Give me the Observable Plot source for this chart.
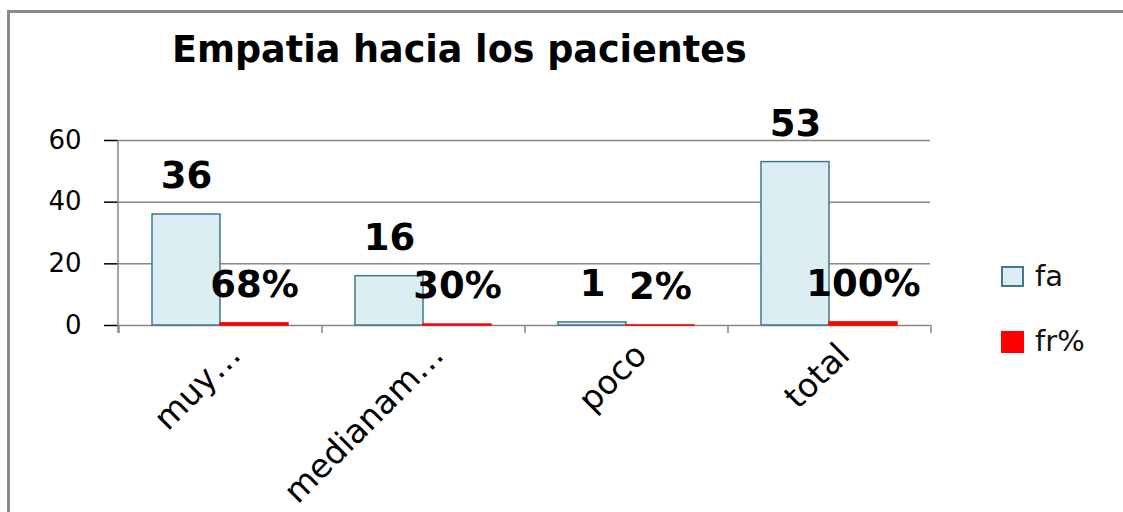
<!DOCTYPE html>
<html>
<head>
<meta charset="utf-8">
<script src="https://cdn.jsdelivr.net/npm/d3@7"></script>
<script src="https://cdn.jsdelivr.net/npm/@observablehq/plot@0.6"></script>
<style>
  html, body { margin: 0; padding: 0; background: #fff; width: 1123px; height: 512px; overflow: hidden; }
  #frame { position: absolute; left: 7px; top: 10px; width: 1150px; height: 560px; border: 3px solid #8a8a8a; box-sizing: border-box; }
  #chart { position: absolute; left: 0; top: 0; }
  #title { position: absolute; left: 172px; top: 32px; font: bold 36.5px "DejaVu Sans"; line-height: 36px; white-space: nowrap; color: #000; }
  #legend { position: absolute; left: 1001px; top: 258px; font: 29px "DejaVu Sans"; color: #111; }
  .item { position: absolute; left: 0; white-space: nowrap; height: 32px; }
  .sw { position: absolute; left: 0; width: 23px; height: 21px; box-sizing: border-box; }
  .lab { position: absolute; left: 34px; top: -8px; line-height: 36px; }
  svg [aria-label="y-axis tick"] { stroke: #868686; stroke-width: 1.5px; }
</style>
</head>
<body>
<div id="frame"></div>
<div id="chart"></div>
<div id="title"></div>
<div id="legend"></div>
<script>
const titleText = "Empatia hacia los pacientes";
const categories = ["muy…", "medianam…", "poco", "total"];
const series = ["fa", "fr%"];
const faValues = [36, 16, 1, 53];
const frValues = [0.68, 0.30, 0.02, 1.00];
const yTicks = [0, 20, 40, 60];
const seriesFill = ["#dbeef4", "#ff0000"];
const seriesStroke = ["#41788a", "#ff0000"];

const fmtPct = d3.format(".0%");
const faRows = categories.map((c, i) => ({category: c, series: series[0], value: faValues[i], label: String(faValues[i])}));
const frRows = categories.map((c, i) => ({category: c, series: series[1], value: frValues[i], label: fmtPct(frValues[i])}));
const rows = faRows.concat(frRows);

// axis line + category-boundary ticks (drawn once, in the first facet whose offset is zero)
let decorDrawn = false;
function axisDecor(index, scales, values, dimensions) {
  if (decorDrawn) return null;
  decorDrawn = true;
  const {marginLeft, marginRight, width} = dimensions;
  let fx = scales.fx;
  if (!fx) fx = d3.scaleBand(categories, [marginLeft, width - marginRight]);
  const y = scales.y;
  const y0 = y(0), yTop = y(yTicks[yTicks.length - 1]);
  const g = d3.create("svg:g").attr("stroke", "#868686").attr("stroke-width", 1.5).attr("fill", "none");
  g.append("line").attr("x1", marginLeft).attr("x2", marginLeft).attr("y1", yTop).attr("y2", y0 + 8);
  const edges = categories.map(c => fx(c)).concat([fx(categories[categories.length - 1]) + fx.bandwidth()]);
  for (const ex of edges) {
    g.append("line").attr("x1", ex).attr("x2", ex).attr("y1", y0).attr("y2", y0 + 8);
  }
  return g.node();
}

const chart = Plot.plot({
  width: 1123,
  height: 512,
  marginLeft: 117,
  marginRight: 193,
  marginTop: 140,
  marginBottom: 187,
  style: {fontFamily: "DejaVu Sans", fontSize: "26px", color: "#000", background: "transparent", overflow: "visible"},
  fx: {domain: categories, padding: 0, label: null},
  x: {domain: series, paddingInner: 0, paddingOuter: 0.48, axis: null},
  y: {domain: [0, 60], ticks: yTicks, tickSize: 14, tickPadding: 23, label: null},
  marks: [
    Plot.ruleY(yTicks, {stroke: "#868686", strokeWidth: 1.5}),
    Plot.barY(faRows, {fx: "category", x: "series", y: "value", fill: seriesFill[0], stroke: seriesStroke[0], strokeWidth: 1.5}),
    Plot.barY(frRows, {fx: "category", x: "series", y: "value", fill: seriesFill[1], stroke: seriesStroke[1], strokeWidth: 1.5}),
    axisDecor,
    Plot.axisFx({anchor: "bottom", label: null, tickRotate: -45, tickSize: 0, tickPadding: 14, fontSize: 33, dx: 15, dy: 10}),
    Plot.text(rows, {fx: "category", x: "series", y: "value", text: "label", dy: -38, lineAnchor: "middle",
      fontSize: 37, fontWeight: "bold", fontFamily: "DejaVu Sans", fill: "#000"})
  ]
});
document.getElementById("chart").appendChild(chart);
document.getElementById("title").textContent = titleText;

const legend = d3.select("#legend");
series.forEach((s, i) => {
  const item = legend.append("div").attr("class", "item").style("top", (i * 65 + 8) + "px");
  item.append("div").attr("class", "sw")
    .style("background", seriesFill[i])
    .style("border", i === 0 ? "2px solid " + seriesStroke[i] : "none")
    .style("height", i === 0 ? "21px" : "22px");
  item.append("div").attr("class", "lab").text(s);
});
</script>
</body>
</html>
